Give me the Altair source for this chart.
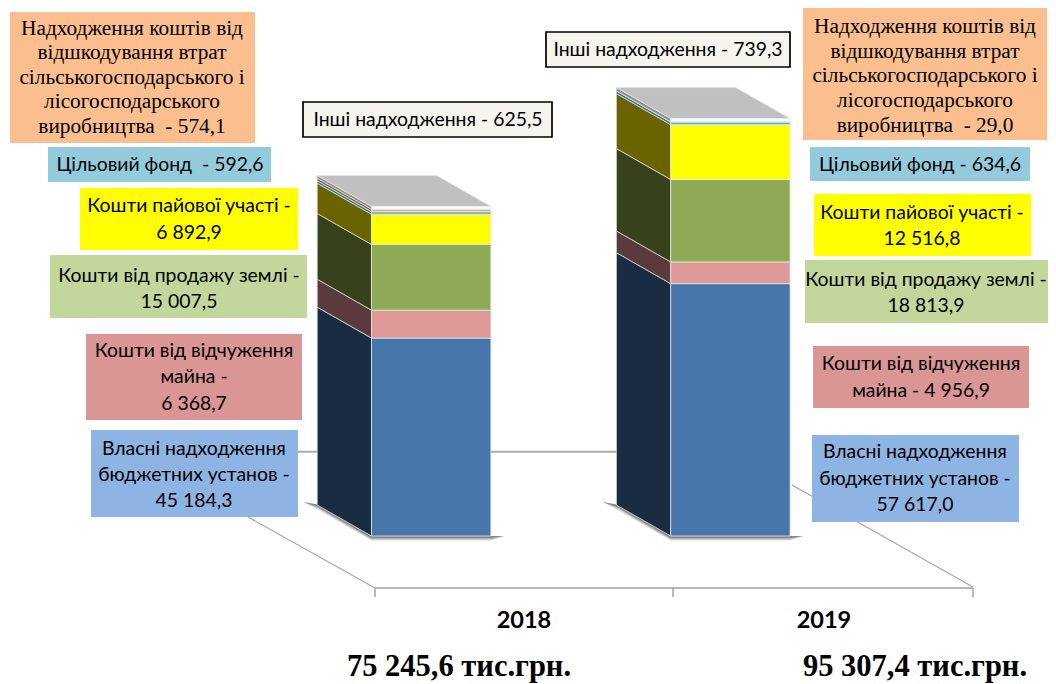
import altair as alt
import pandas as pd

# ---- values (тис. грн) ----
years = ["2018", "2019"]
segments = ["Власні надходження", "Кошти від відчуження", "Кошти від продажу землі",
            "Кошти пайової участі", "Цільовий фонд", "Відшкодування втрат", "Інші надходження"]
values_2018 = [45184.3, 6368.7, 15007.5, 6892.9, 592.6, 574.1, 625.5]
values_2019 = [57617.0, 4956.9, 18813.9, 12516.8, 634.6, 29.0, 739.3]
front_colors = ["#4875AA", "#DE9895", "#8FAA54", "#FFFF00", "#5BB0CF", "#F0A878", "#FFFFFF"]
side_colors = ["#1A2C42", "#5A3A3A", "#37421D", "#6A6400", "#3F7A95", "#8A6548", "#8C8C8C"]
top_color = "#C0C0C0"
totals = ["75 245,6 тис.грн.", "95 307,4 тис.грн."]

# ---- layout of the page (px in the picture) ----
M = 8
W, H = 1040, 676
K = 0.00438            # px per thousand
BASE = 536 - M
DX, DEPTH = 54.3, 31 / K
BAR_LEFT = {"2018": 371.5, "2019": 670.7}
BAR_W = 119.4

y_scale = alt.Scale(domain=[(BASE - H) / K, BASE / K], range=[H, 0])
X = lambda f: alt.X(f, type="quantitative", scale=None, axis=None)
YP = lambda f: alt.Y(f, type="quantitative", scale=None, axis=None)
YV = lambda f: alt.Y(f, type="quantitative", scale=y_scale, axis=None)

# build tables for the faces from the values
front_rows, side_rows, top_rows = [], [], []
for yr, vals in zip(years, [values_2018, values_2019]):
    left = BAR_LEFT[yr] - M
    right = left + BAR_W
    cum = 0
    for i, (seg, v) in enumerate(zip(segments, vals)):
        lo, hi = cum, cum + v
        cum = hi
        front_rows.append(dict(year=yr, seg=seg, i=i, x=left, x2=right, y=lo, y2=hi, color=front_colors[i]))
        side_rows.append(dict(id=f"{yr}-{i}", seg=seg, order=i, x=left - DX, y=lo + DEPTH, y2=hi + DEPTH, color=side_colors[i]))
        side_rows.append(dict(id=f"{yr}-{i}", seg=seg, order=i, x=left, y=lo, y2=hi, color=side_colors[i]))
    t = cum
    top_rows += [
        dict(year=yr, x=left - DX, y=t + DEPTH, y2=t + DEPTH),
        dict(year=yr, x=left, y=t + DEPTH, y2=t),
        dict(year=yr, x=right - DX, y=t + DEPTH, y2=t),
        dict(year=yr, x=right, y=t, y2=t),
    ]
front_df = pd.DataFrame(front_rows)
side_df = pd.DataFrame(side_rows)
top_df = pd.DataFrame(top_rows)

# floor / wall lines
lines = pd.DataFrame([
    dict(x=375, y=588, x2=973, y2=588, w=1.5, c="#A0A0A0"),
    dict(x=375, y=588, x2=375, y2=597, w=1.5, c="#A0A0A0"),
    dict(x=673, y=588, x2=673, y2=597, w=1.5, c="#A0A0A0"),
    dict(x=973, y=588, x2=973, y2=597, w=1.5, c="#A0A0A0"),
    dict(x=248, y=517, x2=375, y2=588, w=1.2, c="#A6A6A6"),
    dict(x=792, y=485, x2=973, y2=587, w=1.2, c="#A6A6A6"),
    dict(x=295, y=451.7, x2=620, y2=451.7, w=2, c="#ABABAB"),
])
for c in ["x", "x2", "y", "y2"]:
    lines[c] = lines[c] - M


def shadow_rows(left, grow, name):
    right = left + BAR_W
    xs = [left - DX - 14, left - DX, left, right, right + 13]
    ys = [BASE - 34, BASE - 31.5, BASE, BASE, BASE]
    rows = []
    for x, y, g in zip(xs, ys, [0, 1, 1, 1, 0]):
        rows.append(dict(id=name, x=x - M, y=y, y2=y + g * grow + (0.01 if g == 0 else 0)))
    return rows


shadow_layers = []
for grow, op in [(4.5, 0.2), (3.2, 0.28), (2, 0.36)]:
    rows = []
    for yr in years:
        rows += shadow_rows(BAR_LEFT[yr], grow, yr)
    sd = pd.DataFrame(rows)
    shadow_layers.append(
        alt.Chart(sd).mark_area(color="#404040", opacity=op).encode(
            x=X("x"), y=YP("y"), y2=alt.Y2("y2"), detail="id:N")
    )

# annotation boxes and their texts
boxes = pd.DataFrame([
    dict(x=10, x2=255, y=12, y2=143, c="#FBBF8F", s="none"),
    dict(x=48, x2=271, y=147, y2=182, c="#93CADC", s="none"),
    dict(x=80, x2=298, y=188, y2=250, c="#FFFF00", s="none"),
    dict(x=50, x2=307, y=255, y2=318, c="#C3D69B", s="none"),
    dict(x=86, x2=302, y=334, y2=420, c="#D99694", s="none"),
    dict(x=91, x2=298, y=430, y2=517, c="#8EB4E3", s="none"),
    dict(x=303, x2=552, y=102, y2=137, c="#F5F5EE", s="#000000"),
    dict(x=803, x2=1047, y=7, y2=140, c="#FBBF8F", s="none"),
    dict(x=810, x2=1030, y=147, y2=181, c="#93CADC", s="none"),
    dict(x=814, x2=1031, y=194, y2=256, c="#FFFF00", s="none"),
    dict(x=805, x2=1056, y=260, y2=323, c="#C3D69B", s="none"),
    dict(x=813, x2=1029, y=346, y2=408, c="#D99694", s="none"),
    dict(x=812, x2=1019, y=435, y2=522, c="#8EB4E3", s="none"),
    dict(x=546, x2=790, y=32, y2=67, c="#F5F5EE", s="#000000"),
])
for c in ["x", "x2", "y", "y2"]:
    boxes[c] = boxes[c] - M

serif_text = pd.DataFrame([
    dict(x=132, y=29, t="Надходження коштів від"),
    dict(x=132, y=53, t="відшкодування втрат"),
    dict(x=132, y=78, t="сільськогосподарського і"),
    dict(x=132, y=102, t="лісогосподарського"),
    dict(x=132, y=127, t="виробництва\u00a0 - 574,1"),
    dict(x=925, y=27, t="Надходження коштів від"),
    dict(x=925, y=52, t="відшкодування втрат"),
    dict(x=925, y=76, t="сільськогосподарського і"),
    dict(x=925, y=101, t="лісогосподарського"),
    dict(x=925, y=126, t="виробництва\u00a0 - 29,0"),
])
sans_text = pd.DataFrame([
    dict(x=160, y=165, t="Цільовий фонд\u00a0 - 592,6"),
    dict(x=189, y=206, t="Кошти пайової участі -"),
    dict(x=189, y=233, t="6 892,9"),
    dict(x=179, y=276, t="Кошти від продажу землі -"),
    dict(x=179, y=302, t="15 007,5"),
    dict(x=194, y=351, t="Кошти від відчуження"),
    dict(x=194, y=377, t="майна -"),
    dict(x=194, y=404, t="6 368,7"),
    dict(x=194, y=449, t="Власні надходження"),
    dict(x=194, y=475, t="бюджетних установ -"),
    dict(x=194, y=501, t="45 184,3"),
    dict(x=428, y=120, t="Інші надходження - 625,5"),
    dict(x=920, y=165, t="Цільовий фонд - 634,6"),
    dict(x=922, y=213, t="Кошти пайової участі -"),
    dict(x=922, y=239, t="12 516,8"),
    dict(x=926, y=280, t="Кошти від продажу землі -"),
    dict(x=926, y=306, t="18 813,9"),
    dict(x=921, y=364, t="Кошти від відчуження"),
    dict(x=921, y=391, t="майна - 4 956,9"),
    dict(x=915, y=452, t="Власні надходження"),
    dict(x=915, y=479, t="бюджетних установ -"),
    dict(x=915, y=505, t="57 617,0"),
    dict(x=668, y=50, t="Інші надходження - 739,3"),
])
year_text = pd.DataFrame([dict(x=524, y=621, t=years[0]), dict(x=824, y=621, t=years[1])])
total_text = pd.DataFrame([dict(x=459, y=667, t=totals[0]), dict(x=915, y=667, t=totals[1])])
for d in (serif_text, sans_text, year_text, total_text):
    d["x"] = d["x"] - M
    d["y"] = d["y"] - M


def text_layer(df, **kw):
    return alt.Chart(df).mark_text(align="center", baseline="middle", color="#000000", **kw).encode(
        x=X("x"), y=YP("y"), text="t:N")


lines_layer = alt.Chart(lines).mark_rule().encode(
    x=X("x"), x2=alt.X2("x2"), y=YP("y"), y2=alt.Y2("y2"),
    color=alt.Color("c:N", scale=None), strokeWidth=alt.StrokeWidth("w:Q", scale=None))

side_layer = alt.Chart(side_df).mark_area(stroke="#D9D9D9", strokeWidth=0.8).encode(
    x=X("x"), y=YV("y"), y2=alt.Y2("y2"), detail="id:N",
    color=alt.Color("color:N", scale=None), order="order:Q")

top_layer = alt.Chart(top_df).mark_area(color=top_color, stroke="#E4E4E4", strokeWidth=0.8).encode(
    x=X("x"), y=YV("y"), y2=alt.Y2("y2"), detail="year:N")

front_layer = alt.Chart(front_df).mark_rect(stroke="#E2E8EE", strokeWidth=0.8).encode(
    x=X("x"), x2=alt.X2("x2"), y=YV("y"), y2=alt.Y2("y2"),
    color=alt.Color("color:N", scale=None))

box_layer = alt.Chart(boxes).mark_rect().encode(
    x=X("x"), x2=alt.X2("x2"), y=YP("y"), y2=alt.Y2("y2"),
    color=alt.Color("c:N", scale=None),
    stroke=alt.Stroke("s:N", scale=None),
    strokeWidth=alt.value(1.7))

chart = alt.layer(
    lines_layer,
    *shadow_layers,
    side_layer,
    top_layer,
    front_layer,
    box_layer,
    text_layer(serif_text, font="Liberation Serif", fontSize=21.3),
    text_layer(sans_text, font="Lato", fontSize=19.4),
    text_layer(year_text, font="Lato", fontSize=23.5, fontWeight="bold"),
    text_layer(total_text, font="Liberation Serif", fontSize=30.5, fontWeight="bold"),
).properties(width=W, height=H, padding=0, background="#FFFFFF", autosize="none"
).configure_view(stroke=None)

chart.save("out.html", embed_options={"renderer": "svg", "actions": False})
